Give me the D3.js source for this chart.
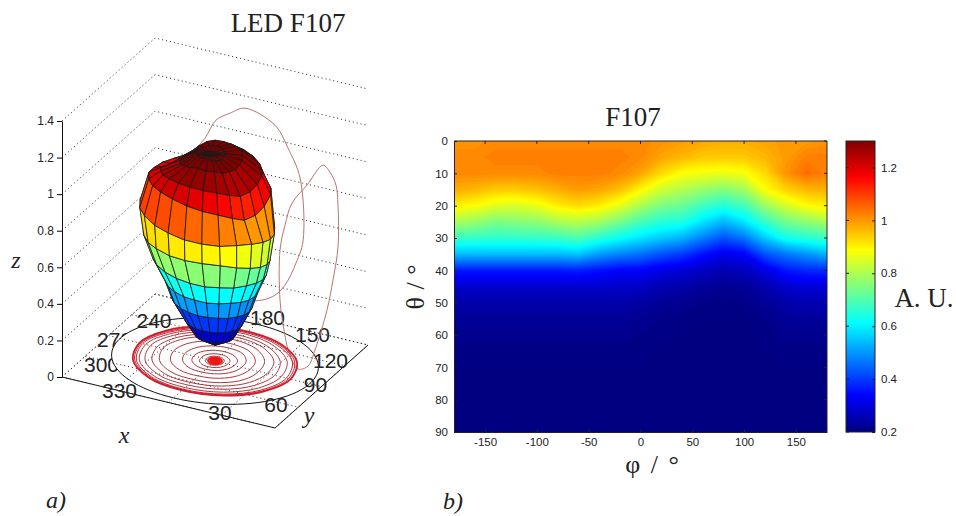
<!DOCTYPE html>
<html>
<head>
<meta charset="utf-8">
<script src="https://cdn.jsdelivr.net/npm/d3@7"></script>
<style>
  html, body { margin: 0; padding: 0; background: #fff; }
  text { font-family: "Liberation Sans", sans-serif; fill: #222; }
  .serif { font-family: "Liberation Serif", serif; }
</style>
</head>
<body>
<div id="wrapper"></div>
<script>
// panel b) measured intensity, one row per theta, one column per phi
const heatPhi = [-180,-160,-140,-120,-100,-80,-60,-40,-20,0,20,40,60,80,100,120,140,160,180];
const heatTheta = [0,5,10,15,20,25,30,35,40,45,50,55,60,65,70,75,80,85,90];
const heatValues = [
  [1.01,1.01,1.02,1.02,1.02,1.02,1.02,1.02,1.02,1.02,1.01,1.00,.99,.98,.98,.99,1.00,1.00,1.01],
  [1.02,1.02,1.03,1.03,1.03,1.03,1.03,1.03,1.03,1.02,.99,.97,.95,.95,.95,.97,1.00,1.03,1.03],
  [1.02,1.02,1.02,1.02,1.02,1.03,1.03,1.03,1.02,.99,.93,.89,.88,.87,.885,.93,1.01,1.05,1.03],
  [.98,.97,.95,.95,.96,.98,1.00,.99,.96,.90,.84,.81,.78,.76,.79,.89,.94,.97,.98],
  [.91,.89,.86,.85,.87,.91,.93,.91,.865,.80,.75,.73,.685,.655,.69,.78,.845,.89,.91],
  [.80,.78,.75,.76,.77,.80,.815,.79,.745,.695,.66,.65,.59,.54,.59,.675,.74,.77,.80],
  [.68,.675,.67,.67,.675,.68,.70,.66,.625,.59,.56,.535,.48,.43,.47,.56,.635,.66,.68],
  [.545,.545,.545,.545,.545,.545,.555,.51,.485,.465,.43,.405,.36,.32,.34,.43,.47,.50,.535],
  [.37,.37,.37,.37,.37,.37,.375,.36,.34,.34,.315,.30,.28,.26,.27,.31,.365,.385,.39],
  [.29,.29,.29,.29,.29,.29,.29,.29,.285,.28,.26,.25,.235,.225,.23,.255,.29,.30,.30],
  [.25,.25,.25,.25,.25,.25,.25,.25,.25,.245,.23,.225,.215,.21,.215,.23,.25,.26,.26],
  [.23,.23,.23,.23,.23,.23,.23,.23,.23,.225,.215,.21,.205,.205,.205,.215,.23,.235,.235],
  [.22,.22,.22,.22,.22,.22,.22,.22,.22,.215,.21,.205,.20,.20,.20,.21,.22,.22,.22],
  [.21,.21,.21,.21,.21,.21,.21,.21,.21,.21,.205,.20,.20,.20,.20,.205,.21,.21,.21],
  [.205,.205,.205,.205,.205,.205,.205,.205,.205,.205,.20,.20,.20,.20,.20,.20,.205,.205,.205],
  [.20,.20,.20,.20,.20,.20,.20,.20,.20,.20,.20,.20,.20,.20,.20,.20,.20,.20,.20],
  [.20,.20,.20,.20,.20,.20,.20,.20,.20,.20,.20,.20,.20,.20,.20,.20,.20,.20,.20],
  [.20,.20,.20,.20,.20,.20,.20,.20,.20,.20,.20,.20,.20,.20,.20,.20,.20,.20,.20],
  [.20,.20,.20,.20,.20,.20,.20,.20,.20,.20,.20,.20,.20,.20,.20,.20,.20,.20,.20],
];
const phiTicks = [-150,-100,-50,0,50,100,150];
const thetaTicks = [0,10,20,30,40,50,60,70,80,90];
const barTicks = [0.2,0.4,0.6,0.8,1,1.2];

// panel a) lobe: polar angle of each ring and radial distance per azimuth
const lobeAzimuth = [0,15,30,45,60,75,90,105,120,135,150,165,180,195,210,225,240,255,270,285,300,315,330,345];
const lobeTheta = [72,62,55.5,50.5,48,45,40,31,25,15,7,3];
const lobeRadius = [
  [.18,.18,.18,.18,.175,.175,.175,.175,.175,.175,.175,.175,.18,.18,.18,.18,.18,.18,.18,.18,.18,.18,.18,.18],
  [.29,.285,.285,.28,.28,.275,.275,.275,.275,.28,.28,.285,.285,.285,.285,.29,.29,.29,.29,.29,.29,.29,.29,.29],
  [.42,.42,.42,.41,.41,.40,.40,.40,.40,.41,.42,.42,.42,.42,.42,.43,.43,.44,.44,.44,.44,.44,.43,.43],
  [.53,.52,.52,.52,.51,.50,.50,.50,.50,.51,.52,.52,.52,.52,.52,.53,.53,.54,.54,.54,.54,.54,.54,.53],
  [.67,.66,.66,.65,.65,.64,.63,.62,.62,.63,.64,.65,.66,.66,.66,.67,.67,.68,.69,.70,.70,.70,.69,.68],
  [.84,.84,.83,.80,.77,.74,.72,.70,.70,.72,.76,.80,.83,.85,.85,.85,.85,.85,.85,.84,.84,.84,.85,.84],
  [.92,.91,.90,.90,.89,.87,.85,.84,.84,.87,.90,.93,.96,.97,.97,.97,.97,.97,.97,.97,.97,.97,.95,.94],
  [1.02,1.00,.98,.95,.92,.93,.96,1.00,1.00,1.00,1.02,1.03,1.05,1.05,1.05,1.05,1.04,1.04,1.04,1.05,1.05,1.05,1.05,1.04],
  [1.06,1.05,1.04,1.02,1.00,1.01,1.03,1.05,1.05,1.06,1.07,1.08,1.08,1.07,1.06,1.04,1.02,1.00,1.01,1.03,1.04,1.05,1.06,1.06],
  [1.06,1.05,1.05,1.04,1.04,1.04,1.05,1.06,1.07,1.08,1.08,1.08,1.08,1.08,1.07,1.05,1.03,1.02,1.02,1.02,1.02,1.03,1.04,1.05],
  [1.05,1.05,1.04,1.04,1.04,1.04,1.05,1.05,1.05,1.05,1.06,1.06,1.06,1.06,1.06,1.05,1.05,1.05,1.05,1.05,1.05,1.05,1.05,1.05],
  [1.04,1.04,1.04,1.04,1.04,1.04,1.04,1.04,1.04,1.04,1.04,1.04,1.04,1.04,1.04,1.04,1.04,1.04,1.04,1.04,1.04,1.04,1.04,1.04],
];
const lobePoleRadius = 1.03;
const lobeBaseZ = 0.087;
const zTicks = [0,0.2,0.4,0.6,0.8,1,1.2,1.4];
const floorTicks = [-1,-0.5,0,0.5,1];
const polarLabels = [30,60,90,120,150,180,240,270,300,330];
const polarLabelsUnderDisc = [270,300];

// red contours on the floor, radius at each of these azimuths, outermost first
const floorAzimuth = [0,30,60,90,120,150,180,210,240,270,300,330];
const floorRadius = [
  [.71,.71,.71,.71,.71,.71,.71,.71,.71,.71,.71,.71],
  [.695,.695,.695,.69,.69,.69,.70,.695,.69,.695,.695,.695],
  [.68,.68,.675,.67,.67,.67,.68,.675,.67,.68,.68,.68],
  [.64,.64,.63,.62,.625,.635,.65,.645,.64,.65,.655,.65],
  [.58,.58,.57,.56,.565,.58,.60,.60,.60,.605,.605,.60],
  [.52,.515,.50,.49,.51,.53,.55,.55,.55,.545,.545,.54],
  [.45,.445,.43,.41,.43,.46,.49,.50,.50,.49,.48,.47],
  [.36,.355,.34,.33,.35,.38,.40,.41,.405,.39,.385,.38],
  [.27,.265,.255,.25,.27,.30,.31,.31,.30,.285,.28,.28],
  [.20,.195,.185,.18,.195,.21,.22,.22,.21,.20,.20,.20],
  [.14,.135,.125,.12,.13,.14,.15,.15,.14,.13,.135,.14],
  [.09,.087,.08,.075,.08,.09,.095,.10,.09,.08,.085,.085],
];
const floorCore = [
  [.065,.062,.058,.055,.06,.065,.07,.07,.065,.06,.06,.06],
  [.045,.045,.042,.04,.04,.045,.05,.05,.045,.04,.042,.045],
  [.03,.03,.03,.025,.03,.03,.03,.035,.03,.03,.03,.03],
  [.015,.015,.015,.015,.015,.015,.015,.015,.015,.015,.015,.015],
];

// contours projected on the two walls
const backWallX = [-.53,-.427,-.296,-.155,.127,.249,.362,.39,.324,.221,.127,.014,-.127,-.27,-.69,-.878,-.831,-.69];
const backWallZ = [.918,1.031,1.087,1.134,1.08,.972,.824,.483,.354,.219,.151,.109,.084,.07,.076,.322,.603,.786];
const sideWallY = [.032,.183,.312,.355,.355,.247,.118,-.14,-.29,-.505,-.70,-.806,-.892,-.892,-.785,-.634,-.312];
const sideWallZ = [1.203,1.13,1.03,.911,.682,.526,.391,.231,.178,.21,.347,.492,.675,.948,1.06,1.147,1.172];

const width = 956;
const height = 516;

const svg = d3.select("#wrapper")
  .append("svg")
  .attr("width", width)
  .attr("height", height)
  .style("display", "block");

// jet colormap
const jetStops = [0, .125, .375, .625, .875, 1];
const jetColors = ["#000080", "#0000ff", "#00ffff", "#ffff00", "#ff0000", "#800000"];
const jet = (lo, hi) => d3.scaleLinear()
  .domain(jetStops.map(t => lo + t * (hi - lo)))
  .range(jetColors)
  .clamp(true);

// ---------- panel a ----------

const xAlong = d3.scaleLinear([-1, 1], [0, 213]);
const xDrop = d3.scaleLinear([-1, 1], [0, 51]);
const yAlong = d3.scaleLinear([-1, 1], [0, 93]);
const yRise = d3.scaleLinear([-1, 1], [0, -83]);
const zRise = d3.scaleLinear([0, 1.4], [377, 121]);

const project = (x, y, z) => [
  62 + xAlong(x) + yAlong(y),
  zRise(z) + xDrop(x) + yRise(y),
];
const polar = (az, rho, z = 0) => {
  const a = az * Math.PI / 180;
  return project(rho * Math.sin(a), -rho * Math.cos(a), z);
};

const left = svg.append("g");
const pathLine = d3.line();

// dotted wall lines
zTicks.forEach(z => {
  left.append("path")
    .attr("d", pathLine([project(-1, -1, z), project(-1, 1, z), project(1, 1, z)]))
    .attr("fill", "none")
    .attr("stroke", "#222")
    .attr("stroke-width", 1)
    .attr("stroke-dasharray", "1 3");
});

// solid floor edges
left.append("path")
  .attr("d", pathLine([project(-1, -1, 0), project(1, -1, 0), project(1, 1, 0)]))
  .attr("fill", "none")
  .attr("stroke", "#111");

// z axis
const zAxis = left.append("g")
  .attr("transform", "translate(62,0)")
  .call(d3.axisLeft(zRise).tickValues(zTicks).tickSizeInner(5).tickSizeOuter(0).tickFormat(d3.format("~g")));
zAxis.selectAll("text").style("font-size", "12px").attr("fill", "#222");
zAxis.select(".domain").attr("stroke", "#111");

// azimuth labels: two of them are partly covered by the white disc
const labelNudge = {30:[-8,3], 60:[-8,1], 90:[-6,-2], 120:[0,-2], 150:[4,-3], 180:[6,-2], 240:[8,2], 270:[6,4], 300:[2,5], 330:[-2,6]};
const drawPolarLabels = (values, cls) => left.selectAll("." + cls)
  .data(values)
  .join("text")
  .attr("class", cls)
  .attr("x", d => polar(d, 1)[0] + labelNudge[d][0])
  .attr("y", d => polar(d, 1)[1] + labelNudge[d][1])
  .attr("text-anchor", "middle")
  .attr("dy", "0.36em")
  .style("font-size", "21px")
  .text(d => d);

drawPolarLabels(polarLabelsUnderDisc, "label-under");

left.append("path")
  .attr("d", d3.line().curve(d3.curveLinearClosed)(d3.range(0, 360, 4).map(a => polar(a, 0.89))))
  .attr("fill", "#fff")
  .attr("stroke", "#111");

drawPolarLabels(polarLabels.filter(d => !polarLabelsUnderDisc.includes(d)), "label-over");

// dotted floor grid
floorTicks.forEach(t => {
  left.append("path")
    .attr("d", pathLine([project(t, -1, 0), project(t, 1, 0)]))
    .attr("stroke", "#222").attr("stroke-dasharray", "1 3").attr("fill", "none");
  left.append("path")
    .attr("d", pathLine([project(-1, t, 0), project(1, t, 0)]))
    .attr("stroke", "#222").attr("stroke-dasharray", "1 3").attr("fill", "none");
});

// wall contours
const closedCurve = d3.line().curve(d3.curveCatmullRomClosed);
left.append("path")
  .attr("d", closedCurve(backWallX.map((x, i) => project(x, 1, backWallZ[i]))))
  .attr("fill", "none").attr("stroke", "#b87474").attr("stroke-width", 1);
left.append("path")
  .attr("d", closedCurve(sideWallY.map((y, i) => project(1, y, sideWallZ[i]))))
  .attr("fill", "none").attr("stroke", "#b87474").attr("stroke-width", 1);

// floor contours
const floorRing = row => closedCurve(row.map((r, i) => polar(floorAzimuth[i], r)));
left.selectAll(".ring")
  .data(floorRadius)
  .join("path")
  .attr("class", "ring")
  .attr("d", floorRing)
  .attr("fill", "none")
  .attr("stroke", (d, i) => i < 3 ? "#cc1f2b" : "#a83a40")
  .attr("stroke-width", (d, i) => i === 0 ? 1.8 : 1);
left.selectAll(".core")
  .data(floorCore)
  .join("path")
  .attr("class", "core")
  .attr("d", floorRing)
  .attr("fill", "none")
  .attr("stroke", "#f01515")
  .attr("stroke-width", 2);

// lobe facets, painted back to front
const lobeColor = jet(0.095, 1.095);
const lobePoint = (rIndex, azIndex) => {
  let r, theta;
  if (rIndex < 0) { r = 0; theta = 0; }
  else if (rIndex >= lobeTheta.length) { r = lobePoleRadius; theta = 0; }
  else { r = lobeRadius[rIndex][azIndex]; theta = lobeTheta[rIndex]; }
  const t = theta * Math.PI / 180;
  const a = lobeAzimuth[azIndex] * Math.PI / 180;
  const rho = r * Math.sin(t);
  const up = r * Math.cos(t);
  // the lobe axis leans a little to the left
  return [rho * Math.sin(a) - 0.04 * up, -rho * Math.cos(a), up + lobeBaseZ];
};

const facets = [];
for (let k = -1; k < lobeTheta.length; k++) {
  lobeAzimuth.forEach((az, j) => {
    const next = (j + 1) % lobeAzimuth.length;
    const corners = [lobePoint(k, j), lobePoint(k, next), lobePoint(k + 1, next), lobePoint(k + 1, j)];
    facets.push({
      corners,
      z: d3.mean(corners, c => c[2]),
      depth: d3.mean(corners, c => 8510 * c[0] - 19490 * c[1] + 5605 * c[2]),
    });
  });
}
facets.sort((a, b) => a.depth - b.depth);

left.selectAll(".facet")
  .data(facets)
  .join("path")
  .attr("class", "facet")
  .attr("d", d => d3.line().curve(d3.curveLinearClosed)(d.corners.map(c => project(c[0], c[1], c[2]))))
  .attr("fill", d => lobeColor(d.z))
  .attr("stroke", "#1a1a1a")
  .attr("stroke-width", 0.8)
  .attr("stroke-linejoin", "round");

// ---------- panel b ----------

const plot = { left: 454, right: 827, top: 141, bottom: 432 };
const phiScale = d3.scaleLinear([-180, 180], [plot.left, plot.right]);
const thetaScale = d3.scaleLinear([0, 90], [plot.top, plot.bottom]);
const heatColor = jet(0.2, 1.3);

svg.append("clipPath").attr("id", "heat-clip")
  .append("rect")
  .attr("x", plot.left).attr("y", plot.top)
  .attr("width", plot.right - plot.left).attr("height", plot.bottom - plot.top);

const heat = svg.append("g").attr("clip-path", "url(#heat-clip)");
heat.append("rect")
  .attr("x", plot.left).attr("y", plot.top)
  .attr("width", plot.right - plot.left).attr("height", plot.bottom - plot.top)
  .attr("fill", heatColor(0.2));

// d3.contours samples sit at index + 0.5
const nCols = heatPhi.length;
const nRows = heatTheta.length;
const gridTransform = d3.geoTransform({
  point(x, y) {
    this.stream.point(
      phiScale(-180 + (x - 0.5) * 360 / (nCols - 1)),
      thetaScale((y - 0.5) * 90 / (nRows - 1))
    );
  },
});
const levels = d3.range(0.205, 1.3, 0.01);
const bands = d3.contours().size([nCols, nRows]).thresholds(levels)(heatValues.flat());
heat.selectAll(".band")
  .data(bands)
  .join("path")
  .attr("class", "band")
  .attr("d", d3.geoPath(gridTransform))
  .attr("fill", d => heatColor(d.value));

const phiAxis = svg.append("g")
  .attr("transform", `translate(0,${plot.bottom})`)
  .call(d3.axisBottom(phiScale).tickValues(phiTicks).tickSizeInner(-3).tickSizeOuter(0).tickPadding(6).tickFormat(d => String(d)));
const thetaAxis = svg.append("g")
  .attr("transform", `translate(${plot.left},0)`)
  .call(d3.axisLeft(thetaScale).tickValues(thetaTicks).tickSizeInner(-3).tickSizeOuter(0).tickPadding(6));
[phiAxis, thetaAxis].forEach(a => {
  a.selectAll("text").style("font-size", "11.5px").attr("fill", "#222");
  a.selectAll("line, .domain").attr("stroke", "#222");
});

// top and right frame with small inward ticks
svg.append("path")
  .attr("d", pathLine([[plot.left, plot.top], [plot.right, plot.top], [plot.right, plot.bottom]]))
  .attr("fill", "none").attr("stroke", "#222");
svg.selectAll(".top-tick").data(phiTicks).join("line")
  .attr("class", "top-tick")
  .attr("x1", d => phiScale(d)).attr("x2", d => phiScale(d))
  .attr("y1", plot.top).attr("y2", plot.top + 3).attr("stroke", "#222");
svg.selectAll(".right-tick").data(thetaTicks).join("line")
  .attr("class", "right-tick")
  .attr("x1", plot.right).attr("x2", plot.right - 3)
  .attr("y1", d => thetaScale(d)).attr("y2", d => thetaScale(d)).attr("stroke", "#222");

// colorbar
const bar = { left: 846, right: 875, top: 141, bottom: 432 };
const barScale = d3.scaleLinear([0.2, 1.3], [bar.bottom, bar.top]);
const gradient = svg.append("defs").append("linearGradient")
  .attr("id", "jet-bar")
  .attr("x1", 0).attr("x2", 0).attr("y1", 1).attr("y2", 0);
gradient.selectAll("stop").data(jetStops).join("stop")
  .attr("offset", d => d)
  .attr("stop-color", (d, i) => jetColors[i]);
svg.append("rect")
  .attr("x", bar.left).attr("y", bar.top)
  .attr("width", bar.right - bar.left).attr("height", bar.bottom - bar.top)
  .attr("fill", "url(#jet-bar)")
  .attr("stroke", "#222");
const barAxis = svg.append("g")
  .attr("transform", `translate(${bar.right},0)`)
  .call(d3.axisRight(barScale).tickValues(barTicks).tickSizeInner(-3).tickSizeOuter(0).tickPadding(6).tickFormat(d3.format("~g")));
barAxis.selectAll("text").style("font-size", "11.5px").attr("fill", "#222");
barAxis.selectAll("line").attr("stroke", "#222");
barAxis.select(".domain").remove();
svg.selectAll(".bar-tick").data(barTicks).join("line")
  .attr("class", "bar-tick")
  .attr("x1", bar.left).attr("x2", bar.left + 3)
  .attr("y1", d => barScale(d)).attr("y2", d => barScale(d)).attr("stroke", "#222");

// ---------- titles and labels ----------

const label = (txt, x, y, size, italic, rotate) => {
  const t = svg.append("text")
    .attr("class", "serif")
    .attr("text-anchor", "middle")
    .attr("transform", `translate(${x},${y})${rotate ? ` rotate(${rotate})` : ""}`)
    .style("font-size", size + "px")
    .text(txt);
  if (italic) t.style("font-style", "italic");
  return t;
};

label("LED F107", 288, 32, 27);
label("F107", 633, 126, 27);
label("A. U.", 924, 307, 27);
label("φ / °", 652, 473, 26).style("word-spacing", "4px");
label("θ / °", 424, 287, 26, false, -90).style("word-spacing", "1px");
label("z", 16, 268, 24, true);
label("x", 124, 443, 24, true);
label("y", 309, 423, 24, true);
label("a)", 56, 508, 24, true);
label("b)", 453, 509, 24, true);
</script>
</body>
</html>
